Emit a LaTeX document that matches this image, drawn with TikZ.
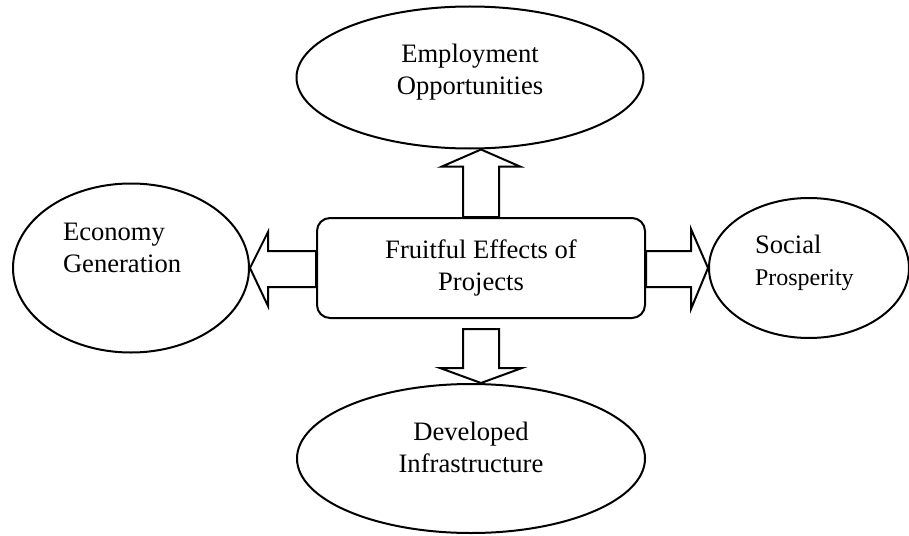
\documentclass[tikz,border=0pt]{standalone}
\usepackage{fontspec}
\setmainfont{Liberation Serif}
\usetikzlibrary{shapes.geometric, calc}

\begin{document}
\begin{tikzpicture}[x = 0.5pt, y = -0.5pt, % pixel grid, y runs downwards
                line width = 1pt, % line style
                node distance = 95pt % distance between nodes
            ]

            \tikzstyle{bubble}=[draw = black, ellipse, inner sep = 0pt]
            \tikzstyle{hubbox}=[draw = black, rectangle, rounded corners = 6.5pt,
            minimum width = 164pt, minimum height = 50pt, inner sep = 0pt,
            align = center, font = \fontsize{13.3}{16}\selectfont]
            \tikzstyle{caption}=[inner sep = 0pt, font = \fontsize{13.3}{16}\selectfont]
            \tikzstyle{blockarrow}=[draw = black, fill = white, line join = miter]

            \useasboundingbox[fill = white] (0,0) rectangle (909,535);

            \node (hub) [hubbox] at (481,268) {Fruitful Effects of\\Projects};
            \node (employ) [bubble, above of=hub, node distance = 95.25pt, xshift = -5.5pt,
            minimum width = 173.5pt, minimum height = 71pt] {};
            \node (infra) [bubble, below of=hub, node distance = 95.25pt, xshift = -5pt,
            minimum width = 174pt, minimum height = 74.5pt] {};
            \node (econ) [bubble, left of=hub, node distance = 175pt,
            minimum width = 118pt, minimum height = 84.5pt] {};
            \node (social) [bubble, right of=hub, node distance = 164pt,
            minimum width = 100pt, minimum height = 70pt] {};

            % texts of the bubbles
            \node (employtext) [caption, anchor = north, align = center] at (470,43)
            {Employment\\Opportunities};
            \node (infratext) [caption, anchor = north, align = center] at (471,421)
            {Developed\\Infrastructure};
            \node (econtext) [caption, anchor = north west, align = left] at (62,222)
            {Economy\\Generation};
            \node (socialtext) [caption, anchor = north west, align = left] at (754,234)
            {Social\\{\fontsize{12}{15}\selectfont Prosperity}};

            % block arrows
            \coordinate (upTip) at (hub.north |- employ.south);
            \coordinate (downTip) at (hub.south |- infra.north);
            \coordinate (leftTip) at (hub.west -| econ.east);
            \coordinate (rightTip) at (hub.east -| social.west);

            \draw[blockarrow] ($(hub.north)+(-18,0)$) -- ($(upTip)+(-18,17)$)
            -- ($(upTip)+(-39,17)$) -- (upTip) -- ($(upTip)+(39,17)$)
            -- ($(upTip)+(18,17)$) -- ($(hub.north)+(18,0)$) -- cycle;
            \draw[blockarrow] ($(hub.south)+(-18,10)$) -- ($(downTip)+(-18,-15)$)
            -- ($(downTip)+(-41,-15)$) -- (downTip) -- ($(downTip)+(41,-15)$)
            -- ($(downTip)+(18,-15)$) -- ($(hub.south)+(18,10)$) -- cycle;
            \draw[blockarrow] ($(hub.west)+(0,-17)$) -- ($(leftTip)+(18,-17)$)
            -- ($(leftTip)+(18,-36)$) -- (leftTip) -- ($(leftTip)+(18,38)$)
            -- ($(leftTip)+(18,19)$) -- ($(hub.west)+(0,19)$) -- cycle;
            \draw[blockarrow] ($(hub.east)+(0,-17)$) -- ($(rightTip)+(-17,-17)$)
            -- ($(rightTip)+(-17,-39)$) -- (rightTip) -- ($(rightTip)+(-17,41)$)
            -- ($(rightTip)+(-17,19)$) -- ($(hub.east)+(0,19)$) -- cycle;
        \end{tikzpicture}
\end{document}
